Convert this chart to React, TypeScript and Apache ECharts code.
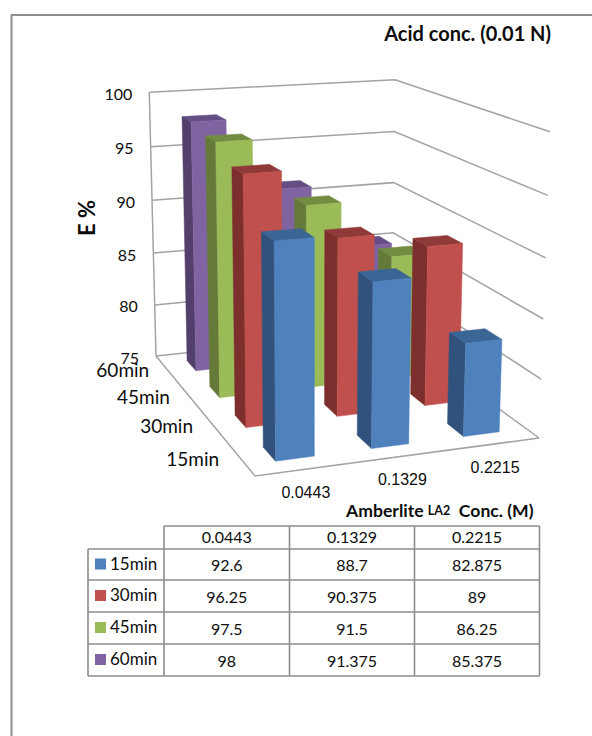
import React, { useEffect, useRef } from "react";
import * as echarts from "echarts";

// Chart contents
const concentrations = ["0.0443", "0.1329", "0.2215"];
const contactTimes = ["15min", "30min", "45min", "60min"];
const values15min = [92.6, 88.7, 82.875];
const values30min = [96.25, 90.375, 89];
const values45min = [97.5, 91.5, 86.25];
const values60min = [98, 91.375, 85.375];
const tableCells15 = ["92.6", "88.7", "82.875"];
const tableCells30 = ["96.25", "90.375", "89"];
const tableCells45 = ["97.5", "91.5", "86.25"];
const tableCells60 = ["98", "91.375", "85.375"];
const valueTicks = [75, 80, 85, 90, 95, 100];

// Face colours per row: front, side, top
const rowColors = [
  ["#4F81BD", "#30527C", "#3A6594"],
  ["#C0504D", "#7C2F2D", "#8F3A38"],
  ["#9BBB59", "#657A38", "#738C42"],
  ["#8064A2", "#533F6C", "#654E84"],
];

// Perspective box. Floor corners: front-left, front-right, back-right, back-left
type Pt = [number, number];
const FLOOR: Pt[] = [[255, 476], [539, 438], [392, 331], [156, 356]];
// Wall-top anchors [u, v, x, y] that fix the vertical part of the camera
const TOP_ANCHORS = [
  [0, 1, 149, 92],
  [1, 1, 396, 79],
  [1, 0, 549, 133],
];
const BAR_SHARE = 0.4;
const GRID_COLOR = "#A3A3A3";
const TABLE_COLOR = "#8C8C8C";
const BODY_FONT = "Lato";
const TEXT_COLOR = "#0d0d0d";

function solveFloor(q: Pt[]) {
  const [[x0, y0], [x1, y1], [x2, y2], [x3, y3]] = q;
  const dx1 = x1 - x2, dx2 = x3 - x2, sx = x0 - x1 + x2 - x3;
  const dy1 = y1 - y2, dy2 = y3 - y2, sy = y0 - y1 + y2 - y3;
  const det = dx1 * dy2 - dx2 * dy1;
  const g = (sx * dy2 - dx2 * sy) / det;
  const h = (dx1 * sy - sx * dy1) / det;
  return { a: x1 - x0 + g * x1, b: x3 - x0 + h * x3, c: x0, d: y1 - y0 + g * y1, e: y3 - y0 + h * y3, f: y0, g, h };
}

const F = solveFloor(FLOOR);

// Least-squares fit of the three camera terms that multiply the height coordinate
function solveHeightTerms() {
  const A = [[0, 0, 0], [0, 0, 0], [0, 0, 0]];
  const B = [0, 0, 0];
  const add = (row: number[], rhs: number) => {
    for (let i = 0; i < 3; i++) {
      for (let j = 0; j < 3; j++) A[i][j] += row[i] * row[j];
      B[i] += row[i] * rhs;
    }
  };
  TOP_ANCHORS.forEach(([u, v, X, Y]) => {
    const w = F.g * u + F.h * v + 1;
    add([1, 0, -X], X * w - (F.a * u + F.b * v + F.c));
    add([0, 1, -Y], Y * w - (F.d * u + F.e * v + F.f));
  });
  const det3 = (m: number[][]) =>
    m[0][0] * (m[1][1] * m[2][2] - m[1][2] * m[2][1]) -
    m[0][1] * (m[1][0] * m[2][2] - m[1][2] * m[2][0]) +
    m[0][2] * (m[1][0] * m[2][1] - m[1][1] * m[2][0]);
  const D = det3(A);
  const sub = (k: number) => A.map((r, i) => r.map((val, j) => (j === k ? B[i] : val)));
  return { p: det3(sub(0)) / D, q: det3(sub(1)) / D, r: det3(sub(2)) / D };
}

const H = solveHeightTerms();

// u: along the concentration axis, v: along the time axis, t: share of the value axis
function project(u: number, v: number, t: number): Pt {
  const w = F.g * u + F.h * v + H.r * t + 1;
  return [(F.a * u + F.b * v + F.c + H.p * t) / w, (F.d * u + F.e * v + F.f + H.q * t) / w];
}

// The hidden grid is a 100x100 unit square, so api.coord returns percentages of each scale
const toU = (api: any, x: number) => api.coord([x, 75])[0] / 100;
const toT = (api: any, value: number) => (100 - api.coord([0, value])[1]) / 100;

function renderBar(_: any, api: any) {
  const cat = api.value(0);
  const row = api.value(1);
  const t = toT(api, api.value(2));
  const margin = (1 - BAR_SHARE) / 2;
  const u0 = toU(api, cat + margin);
  const u1 = toU(api, cat + 1 - margin);
  const v0 = (row + margin) / contactTimes.length;
  const v1 = (row + 1 - margin) / contactTimes.length;
  const [front, side, top] = rowColors[row];
  const face = (points: Pt[], fill: string) => ({
    type: "polygon",
    shape: { points },
    style: { fill, stroke: fill, lineWidth: 0.5 },
  });
  return {
    type: "group",
    children: [
      face([project(u0, v1, 0), project(u0, v0, 0), project(u0, v0, t), project(u0, v1, t)], side),
      face([project(u0, v0, t), project(u1, v0, t), project(u1, v1, t), project(u0, v1, t)], top),
      face([project(u0, v0, 0), project(u1, v0, 0), project(u1, v0, t), project(u0, v0, t)], front),
    ],
  };
}

function renderWallLine(_: any, api: any) {
  const value = api.value(0);
  const t = toT(api, value);
  const points = [project(0, 1, t), project(1, 1, t), project(1, 0, t)];
  const left = project(0, 1, t);
  return {
    type: "group",
    children: [
      {
        type: "polyline",
        shape: { points },
        style: { stroke: GRID_COLOR, lineWidth: 1.5, fill: "none" },
      },
      {
        type: "text",
        style: {
          text: String(value),
          x: left[0] - 17,
          y: left[1] + 1,
          align: "right",
          verticalAlign: "middle",
          font: `16px ${BODY_FONT}`,
          fill: TEXT_COLOR,
        },
      },
    ],
  };
}

function renderCategoryLabel(_: any, api: any) {
  const cat = api.value(0);
  const p = project(toU(api, cat + 0.5), 0, 0);
  return {
    type: "text",
    style: {
      text: concentrations[cat],
      x: p[0] + 1,
      y: p[1] + 23,
      align: "center",
      verticalAlign: "middle",
      font: "16px 'Liberation Sans'",
      fill: TEXT_COLOR,
    },
  };
}

function renderTimeLabel(_: any, api: any) {
  const row = api.value(0);
  const p = project(0, (row + 0.5) / contactTimes.length, 0);
  return {
    type: "text",
    style: {
      text: contactTimes[row],
      x: p[0] - 21 + row * 1.33,
      y: p[1] + 1,
      align: "right",
      verticalAlign: "middle",
      font: `19px ${BODY_FONT}`,
      fill: TEXT_COLOR,
    },
  };
}

function renderFloorEdges() {
  const edges = [project(0, 1, 1), project(0, 1, 0), project(0, 0, 0), project(1, 0, 0)];
  return {
    type: "polyline",
    shape: { points: edges },
    style: { stroke: GRID_COLOR, lineWidth: 1.5, fill: "none" },
  };
}

// Data table below the plot
const COL_X = [88, 164, 289.5, 414.5, 539.5];
const ROW_Y = [526, 549, 580, 612, 644, 676];

function tableGraphics() {
  const rows = [tableCells15, tableCells30, tableCells45, tableCells60];
  const line = (x1: number, y1: number, x2: number, y2: number) => ({
    type: "line",
    shape: { x1, y1, x2, y2 },
    style: { stroke: TABLE_COLOR, lineWidth: 1.6 },
  });
  const cell = (text: string, x: number, y: number, align = "center", size = 16) => ({
    type: "text",
    style: { text, x, y, align, verticalAlign: "middle", font: `${size}px ${BODY_FONT}`, fill: TEXT_COLOR },
  });
  const out: any[] = [];
  ROW_Y.forEach((y, i) => out.push(line(i === 0 ? COL_X[1] : COL_X[0], y, COL_X[4], y)));
  COL_X.forEach((x, i) => out.push(line(x, i === 0 ? ROW_Y[1] : ROW_Y[0], x, ROW_Y[5])));
  concentrations.forEach((c, i) =>
    out.push(cell(c, (COL_X[i + 1] + COL_X[i + 2]) / 2, (ROW_Y[0] + ROW_Y[1]) / 2 - 1)),
  );
  rows.forEach((r, ri) => {
    const midY = (ROW_Y[ri + 1] + ROW_Y[ri + 2]) / 2;
    out.push({
      type: "rect",
      shape: { x: 95, y: midY - 6, width: 11, height: 11 },
      style: { fill: rowColors[ri][0] },
    });
    out.push(cell(contactTimes[ri], 110, midY - 1.5, "left", 17));
    r.forEach((txt, ci) => out.push(cell(txt, (COL_X[ci + 1] + COL_X[ci + 2]) / 2, midY)));
  });
  return out;
}

function staticGraphics() {
  return [
    {
      type: "polyline",
      shape: { points: [[11.5, 736], [11.5, 15], [592, 15]] },
      style: { stroke: "#8F8F8F", lineWidth: 2, fill: "none" },
    },
    {
      type: "text",
      style: {
        text: "Acid conc. (0.01 N)",
        x: 551,
        y: 33,
        align: "right",
        verticalAlign: "middle",
        font: `bold 20px ${BODY_FONT}`,
        fill: TEXT_COLOR,
      },
    },
    {
      type: "text",
      x: 86,
      y: 218,
      rotation: Math.PI / 2,
      style: {
        text: "E %",
        align: "center",
        verticalAlign: "middle",
        font: `bold 22px ${BODY_FONT}`,
        fill: TEXT_COLOR,
      },
    },
    {
      type: "text",
      style: {
        x: 346,
        y: 510,
        verticalAlign: "middle",
        text: "{a|Amberlite }{b|LA2}{a|  Conc. (M)}",
        rich: {
          a: { font: `bold 17.6px ${BODY_FONT}`, fill: TEXT_COLOR },
          b: { font: `bold 12.5px ${BODY_FONT}`, fill: TEXT_COLOR },
        },
      },
    },
    ...tableGraphics(),
  ];
}

export default function App() {
  const ref = useRef<HTMLDivElement>(null);
  useEffect(() => {
    const chart = echarts.init(ref.current!, undefined, { renderer: "svg" });
    const rows = [values15min, values30min, values45min, values60min];
    const barData: number[][] = [];
    // Painter's order: back row first, and the far (right) bar of each row first
    for (let r = rows.length - 1; r >= 0; r--) {
      for (let c = concentrations.length - 1; c >= 0; c--) {
        barData.push([c, r, rows[r][c]]);
      }
    }
    chart.setOption({
      animation: false,
      backgroundColor: "#fff",
      grid: { left: 0, top: 0, width: 100, height: 100 },
      xAxis: { type: "value", min: 0, max: concentrations.length, show: false },
      yAxis: { type: "value", min: 75, max: 100, show: false },
      graphic: staticGraphics(),
      series: [
        { type: "custom", silent: true, z: 1, data: valueTicks.map((v) => [v]), encode: { x: [], y: 0 }, renderItem: renderWallLine },
        { type: "custom", silent: true, z: 1, data: [[0]], renderItem: renderFloorEdges },
        { type: "custom", silent: true, z: 2, data: barData, encode: { x: 0, y: 2 }, renderItem: renderBar },
        { type: "custom", silent: true, z: 3, data: concentrations.map((_, i) => [i]), renderItem: renderCategoryLabel },
        { type: "custom", silent: true, z: 3, data: contactTimes.map((_, i) => [i]), renderItem: renderTimeLabel },
      ],
    });
    return () => chart.dispose();
  }, []);
  return (
    <div
      ref={ref}
      style={{ position: "absolute", left: 0, top: 0, width: 592, height: 736 }}
    />
  );
}
